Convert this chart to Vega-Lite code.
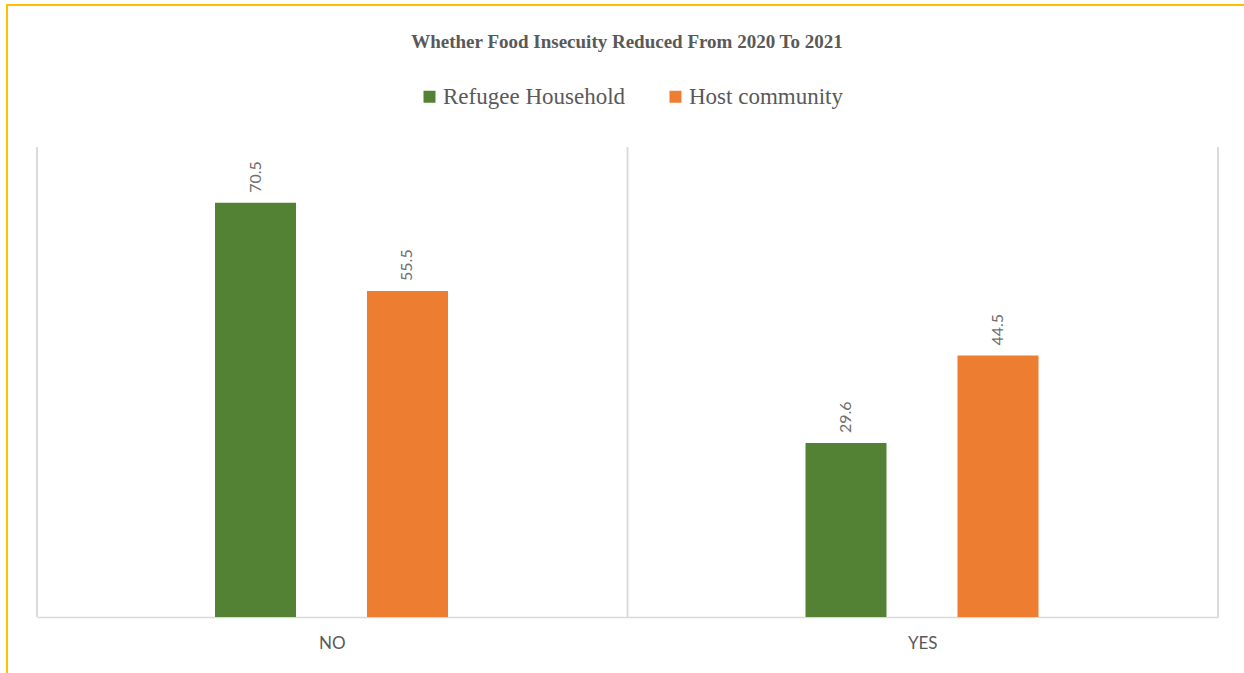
{
  "$schema": "https://vega.github.io/schema/vega-lite/v6.json",
  "width": 1240,
  "height": 671,
  "autosize": {"type": "none"},
  "padding": {"left": 7, "top": 5, "right": -3, "bottom": -3},
  "background": "white",
  "title": {
    "text": "Whether Food Insecuity Reduced From 2020 To 2021",
    "font": "Liberation Serif",
    "fontSize": 19,
    "fontWeight": "bold",
    "color": "#595959",
    "anchor": "middle",
    "frame": "group",
    "baseline": "alphabetic",
    "offset": -62
  },
  "data": {
    "values": [
      {"cat": "NO", "group": "Refugee Household", "value": 70.5},
      {"cat": "NO", "group": "Host community", "value": 55.5},
      {"cat": "YES", "group": "Refugee Household", "value": 29.6},
      {"cat": "YES", "group": "Host community", "value": 44.5}
    ]
  },
  "layer": [
    {
      "mark": {"type": "rule", "color": "#d9d9d9", "strokeWidth": 1.5},
      "encoding": {
        "x": {"field": "cat", "type": "nominal", "bandPosition": 0,
              "scale": {"type": "band", "domain": ["NO", "YES"], "range": [30, 1211], "paddingInner": 0, "paddingOuter": 0},
              "axis": {"title": null, "orient": "bottom", "offset": -59, "domainColor": "#d9d9d9", "domainWidth": 1.5,
                       "ticks": false, "grid": false, "labelAngle": 0, "labelFont": "Lato", "labelFontSize": 17,
                       "labelColor": "#595959", "labelPadding": 18}},
        "y": {"datum": 80, "type": "quantitative", "scale": {"domain": [0, 80], "range": [612, 142]}, "axis": null},
        "y2": {"datum": 0}
      }
    },
    {
      "transform": [{"filter": "datum.cat === 'YES'"}],
      "mark": {"type": "rule", "color": "#d9d9d9", "strokeWidth": 1.5},
      "encoding": {
        "x": {"field": "cat", "type": "nominal", "bandPosition": 1,
              "scale": {"type": "band", "domain": ["NO", "YES"], "range": [30, 1211], "paddingInner": 0, "paddingOuter": 0},
              "axis": {"title": null, "orient": "bottom", "offset": -59, "domainColor": "#d9d9d9", "domainWidth": 1.5,
                       "ticks": false, "grid": false, "labelAngle": 0, "labelFont": "Lato", "labelFontSize": 17,
                       "labelColor": "#595959", "labelPadding": 18}},
        "y": {"datum": 80, "type": "quantitative", "scale": {"domain": [0, 80], "range": [612, 142]}, "axis": null},
        "y2": {"datum": 0}
      }
    },
    {
      "mark": {"type": "bar"},
      "encoding": {
        "x": {"field": "cat", "type": "nominal",
              "scale": {"type": "band", "domain": ["NO", "YES"], "range": [30, 1211], "paddingInner": 0, "paddingOuter": 0},
              "axis": {"title": null, "orient": "bottom", "offset": -59, "domainColor": "#d9d9d9", "domainWidth": 1.5,
                       "ticks": false, "grid": false, "labelAngle": 0, "labelFont": "Lato", "labelFontSize": 17,
                       "labelColor": "#595959", "labelPadding": 18}},
        "xOffset": {"field": "group", "type": "nominal",
                    "scale": {"domain": ["Refugee Household", "Host community"], "range": [178, 411], "paddingInner": 0.467, "paddingOuter": 0}},
        "y": {"field": "value", "type": "quantitative", "scale": {"domain": [0, 80], "range": [612, 142]}, "axis": null},
        "color": {"field": "group", "type": "nominal",
                  "scale": {"domain": ["Refugee Household", "Host community"], "range": ["#548235", "#ED7D31"]},
                  "legend": {"title": null, "orient": "none", "direction": "horizontal", "columns": 2,
                             "legendX": 411, "legendY": 80, "padding": 0,
                             "symbolType": "square", "symbolSize": 144, "symbolStrokeWidth": 0,
                             "labelFont": "Liberation Serif", "labelFontSize": 23, "labelColor": "#595959",
                             "labelOffset": 2, "columnPadding": 38, "labelLimit": 400}}
      }
    },
    {
      "mark": {"type": "text", "angle": 270, "align": "left", "baseline": "middle", "dx": 10,
               "font": "Lato", "fontSize": 16, "color": "#6f6f6f"},
      "encoding": {
        "x": {"field": "cat", "type": "nominal",
              "scale": {"type": "band", "domain": ["NO", "YES"], "range": [30, 1211], "paddingInner": 0, "paddingOuter": 0},
              "axis": {"title": null, "orient": "bottom", "offset": -59, "domainColor": "#d9d9d9", "domainWidth": 1.5,
                       "ticks": false, "grid": false, "labelAngle": 0, "labelFont": "Lato", "labelFontSize": 17,
                       "labelColor": "#595959", "labelPadding": 18}},
        "xOffset": {"field": "group", "type": "nominal",
                    "scale": {"domain": ["Refugee Household", "Host community"], "range": [178, 411], "paddingInner": 0.467, "paddingOuter": 0}},
        "y": {"field": "value", "type": "quantitative", "scale": {"domain": [0, 80], "range": [612, 142]}, "axis": null},
        "text": {"field": "value", "type": "quantitative", "format": ".1f"}
      }
    }
  ],
  "config": {
    "view": {"stroke": "#FFC000", "strokeWidth": 2}
  }
}
